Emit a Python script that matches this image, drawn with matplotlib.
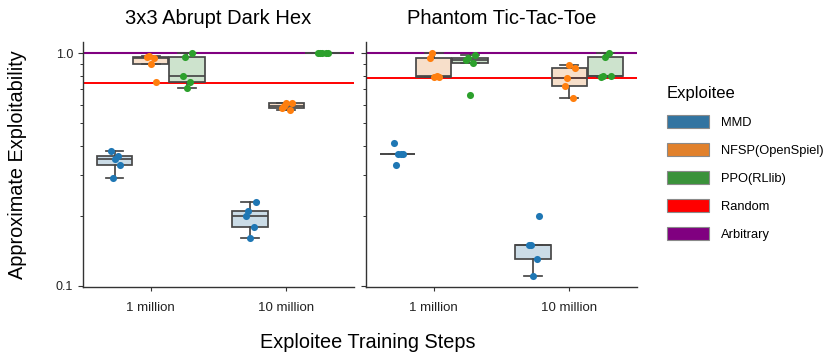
import matplotlib
matplotlib.use("Agg")
import matplotlib.pyplot as plt
import numpy as np
from matplotlib.patches import Patch
from matplotlib.ticker import NullFormatter, LogLocator

plt.rcParams['font.family'] = ['Liberation Sans', 'DejaVu Sans']

# ---------------- data ----------------
games = ["3x3 Abrupt Dark Hex", "Phantom Tic-Tac-Toe"]
steps = ["1 million", "10 million"]
exploitees = ["MMD", "NFSP(OpenSpiel)", "PPO(RLlib)"]

# [1 million, 10 million] for each exploitee
hex_mmd = [[0.38, 0.36, 0.35, 0.33, 0.29], [0.23, 0.21, 0.20, 0.18, 0.16]]
hex_nfsp = [[0.97, 0.96, 0.95, 0.90, 0.75], [0.61, 0.61, 0.59, 0.58, 0.57]]
hex_ppo = [[1.00, 0.96, 0.80, 0.75, 0.71], [1.00, 1.00, 1.00, 1.00, 1.00]]

ttt_mmd = [[0.41, 0.37, 0.37, 0.37, 0.33], [0.20, 0.15, 0.15, 0.13, 0.11]]
ttt_nfsp = [[1.00, 0.95, 0.80, 0.79, 0.79], [0.89, 0.86, 0.78, 0.72, 0.64]]
ttt_ppo = [[0.98, 0.95, 0.93, 0.91, 0.66], [1.00, 0.96, 0.80, 0.80, 0.79]]

random_level = [0.744, 0.78]      # per game
arbitrary_level = [1.0, 1.0]      # per game

game_data = [[hex_mmd, hex_nfsp, hex_ppo], [ttt_mmd, ttt_nfsp, ttt_ppo]]

# ---------------- style ----------------
box_colors = ['#3274a1', '#e1812c', '#3a923a']
pt_colors = ['#1f77b4', '#ff7f0e', '#2ca02c']
random_color = '#ff0000'
arbitrary_color = '#800080'
edge = '#474747'
jitter = [-0.03, 0.025, 0.0, 0.04, -0.015]

W, H = 830, 358
fig = plt.figure(figsize=(W / 100, H / 100), dpi=100)
ax_w = 271 / W
ax_h = (287 - 42) / H
ax_b = 1 - 287 / H
ax1 = fig.add_axes([83 / W, ax_b, ax_w, ax_h])
ax2 = fig.add_axes([366 / W, ax_b, ax_w, ax_h], sharey=ax1)

nh = len(exploitees)
bw = 0.8 / nh
for gi, ax in enumerate([ax1, ax2]):
    ax.axhline(random_level[gi], color=random_color, lw=1.4, zorder=1)
    ax.axhline(arbitrary_level[gi], color=arbitrary_color, lw=1.5, zorder=1)
    for hi, series in enumerate(game_data[gi]):
        for si, vals in enumerate(series):
            pos = si + (hi - (nh - 1) / 2) * bw
            bp = ax.boxplot([vals], positions=[pos], widths=bw * 0.98, whis=1.5,
                            showfliers=False, patch_artist=True, manage_ticks=False,
                            boxprops=dict(facecolor=box_colors[hi], edgecolor=edge, lw=1.25),
                            medianprops=dict(color=edge, lw=1.25),
                            whiskerprops=dict(color=edge, lw=1.25),
                            capprops=dict(color=edge, lw=1.25), zorder=2)
            for b in bp['boxes']:
                fc = matplotlib.colors.to_rgba(box_colors[hi], 0.25)
                b.set_facecolor(fc)
            n = len(vals)
            offs = np.roll(jitter, hi + 2 * si)[:n]
            ax.scatter(pos + np.array(offs), vals, s=26, color=pt_colors[hi],
                       linewidths=0, zorder=4)
    ax.set_xlim(-0.5, 1.5)
    ax.set_xticks(range(len(steps)))
    ax.set_xticklabels(steps, fontsize=9.5)
    ax.set_title(games[gi], fontsize=14.5, pad=13)
    ax.set_yscale('log')
    for s in ['top', 'right']:
        ax.spines[s].set_visible(False)
    for s in ['left', 'bottom']:
        ax.spines[s].set_color('#333333')
        ax.spines[s].set_linewidth(1.0)
    ax.tick_params(axis='x', length=3, width=0.8, pad=8, colors='#333333', labelcolor='#222222')
    ax.tick_params(axis='y', which='major', length=3.5, width=0.8, colors='#333333', labelcolor='#222222')
    ax.tick_params(axis='y', which='minor', length=2.5, width=0.7, colors='#333333')

ax1.set_ylim(0.099, 1.115)
ax1.set_yticks([0.1, 1.0])
ax1.set_yticklabels(['0.1', '1.0'], fontsize=9)
ax1.yaxis.set_minor_locator(LogLocator(base=10, subs=np.arange(2, 10)))
ax1.yaxis.set_minor_formatter(NullFormatter())
plt.setp(ax2.get_yticklabels(), visible=False)

fig.text(17.5 / W, 1 - 165 / H, "Approximate Exploitability", rotation=90,
         ha='center', va='center', fontsize=14.3)
fig.text(368 / W, 1 - 342 / H, "Exploitee Training Steps", ha='center', va='center',
         fontsize=14.3)

handles = [Patch(facecolor=c, edgecolor='#8a8a8a', lw=0.8) for c in box_colors]
handles += [Patch(facecolor=random_color, edgecolor='#8a8a8a', lw=0.8),
            Patch(facecolor=arbitrary_color, edgecolor='#8a8a8a', lw=0.8)]
labels = exploitees + ["Random", "Arbitrary"]
leg = fig.legend(handles, labels, title="Exploitee", loc='upper left',
                 bbox_to_anchor=(667 / W, 1 - 86 / H), frameon=False,
                 fontsize=9.3, title_fontsize=12, handlelength=3.25, handleheight=1.08,
                 handletextpad=0.95, labelspacing=1.12, borderpad=0, borderaxespad=0)
leg._legend_box.align = "left"

fig.savefig("out.png", dpi=100)
